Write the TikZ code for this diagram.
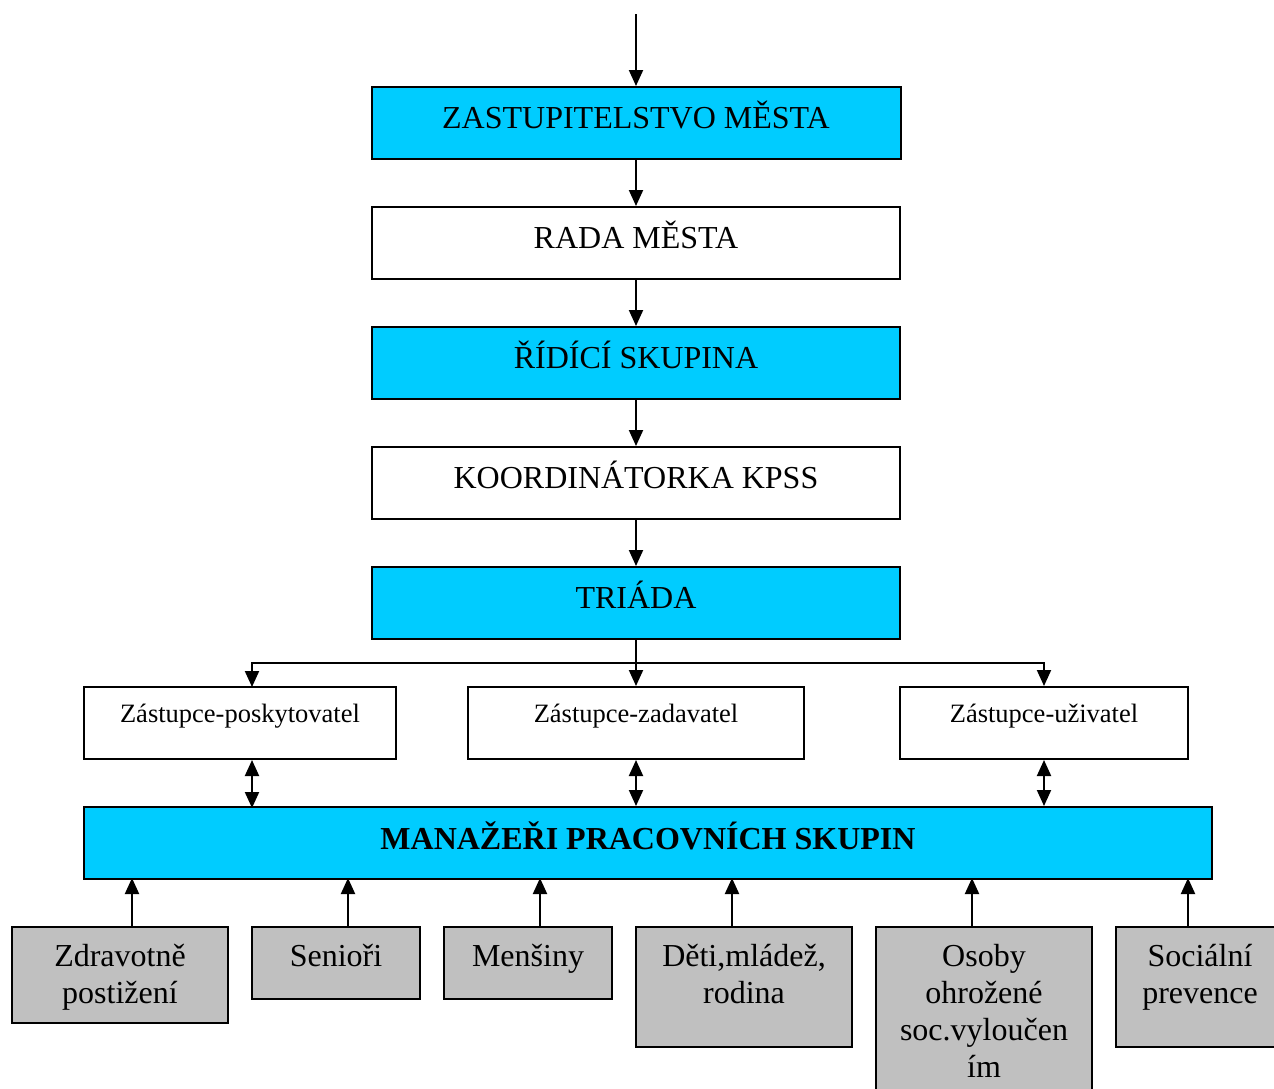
\documentclass[tikz,border=0pt]{standalone}
\usepackage{fontspec}
\setmainfont{Liberation Serif}
\usetikzlibrary{arrows.meta}
\definecolor{cyanfill}{HTML}{00CCFF}
\definecolor{grayfill}{HTML}{C0C0C0}
\begin{document}
\begin{tikzpicture}[x=1pt,y=-1pt,
  box/.style={draw=black, line width=2pt, inner sep=0pt},
  cyanbox/.style={box, fill=cyanfill},
  whitebox/.style={box, fill=white},
  graybox/.style={box, fill=grayfill},
  big/.style={font=\fontsize{32}{37}\selectfont, inner sep=0pt, anchor=base, align=center},
  bigb/.style={font=\fontsize{32}{37}\selectfont\bfseries, inner sep=0pt, anchor=base},
  small/.style={font=\fontsize{26.5}{30}\selectfont, inner sep=0pt, anchor=base},
  arr/.style={line width=2pt, -{Triangle[length=16pt,width=14pt]}},
  darr/.style={line width=2pt, {Triangle[length=16pt,width=14pt]}-{Triangle[length=16pt,width=14pt]}},
]
\useasboundingbox (0,0) rectangle (1274,1088);
\clip (0,0) rectangle (1274,1088);

% main column
\coordinate (top) at (636,14);
\node[cyanbox, minimum width=529pt, minimum height=72pt] (z) at (636,123) {};
\node[big] (zt) at (636,128) {ZASTUPITELSTVO MĚSTA};
\node[whitebox, minimum width=528pt, minimum height=72pt] (r) at (636,243) {};
\node[big] (rt) at (636,248) {RADA MĚSTA};
\node[cyanbox, minimum width=528pt, minimum height=72pt] (s) at (636,363) {};
\node[big] (st) at (636,368) {ŘÍDÍCÍ SKUPINA};
\node[whitebox, minimum width=528pt, minimum height=72pt] (k) at (636,483) {};
\node[big] (kt) at (636,488) {KOORDINÁTORKA KPSS};
\node[cyanbox, minimum width=528pt, minimum height=72pt] (t) at (636,603) {};
\node[big] (tt) at (636,608) {TRIÁDA};

% representatives
\node[whitebox, minimum width=312pt, minimum height=72pt] (zp) at (240,723) {};
\node[small] (zpt) at (240,722) {Zástupce-poskytovatel};
\node[whitebox, minimum width=336pt, minimum height=72pt] (zz) at (636,723) {};
\node[small] (zzt) at (636,722) {Zástupce-zadavatel};
\node[whitebox, minimum width=288pt, minimum height=72pt] (zu) at (1044,723) {};
\node[small] (zut) at (1044,722) {Zástupce-uživatel};

% managers
\node[cyanbox, minimum width=1128pt, minimum height=72pt] (m) at (648,843) {};
\node[bigb] (mt) at (648,849) {MANAŽEŘI PRACOVNÍCH SKUPIN};

% working groups (base anchor = baseline of the last line)
\node[graybox, minimum width=216pt, minimum height=96pt] (g1) at (120,975) {};
\node[big] (g1t) at (120,1003) {Zdravotně\\postižení};
\node[graybox, minimum width=168pt, minimum height=72pt] (g2) at (336,963) {};
\node[big] (g2t) at (336,966) {Senioři};
\node[graybox, minimum width=168pt, minimum height=72pt] (g3) at (528,963) {};
\node[big] (g3t) at (528,966) {Menšiny};
\node[graybox, minimum width=216pt, minimum height=120pt] (g4) at (744,987) {};
\node[big] (g4t) at (744,1003) {Děti,mládež,\\rodina};
\node[graybox, minimum width=216pt, minimum height=192pt] (g5) at (984,1023) {};
\node[big] (g5t) at (984,1077) {Osoby\\ohrožené\\soc.vyloučen\\ím};
\node[graybox, minimum width=168pt, minimum height=120pt] (g6) at (1200,987) {};
\node[big] (g6t) at (1200,1003) {Sociální\\prevence};

% connectors
\draw[arr] (top) -- (z.north);
\draw[arr] (z.south) -- (r.north);
\draw[arr] (r.south) -- (s.north);
\draw[arr] (s.south) -- (k.north);
\draw[arr] (k.south) -- (t.north);
\draw[arr] (t.south) -- (zz.north);
\coordinate (split) at (636,663);
\coordinate (zpin) at (252,687);
\draw[arr] (split) -| (zpin);
\draw[arr] (split) -| (zu.north);

\draw[darr] ([xshift=12pt]zp.south) -- ++(0,48);
\draw[darr] (zz.south) -- (zz.south |- m.north);
\draw[darr] (zu.south) -- (zu.south |- m.north);

\draw[arr] ([xshift=12pt]g1.north) -- ++(0,-48);
\draw[arr] ([xshift=12pt]g2.north) -- ++(0,-48);
\draw[arr] ([xshift=12pt]g3.north) -- ++(0,-48);
\draw[arr] ([xshift=-12pt]g4.north) -- ++(0,-48);
\draw[arr] ([xshift=-12pt]g5.north) -- ++(0,-48);
\draw[arr] ([xshift=-12pt]g6.north) -- ++(0,-48);
\end{tikzpicture}
\end{document}
